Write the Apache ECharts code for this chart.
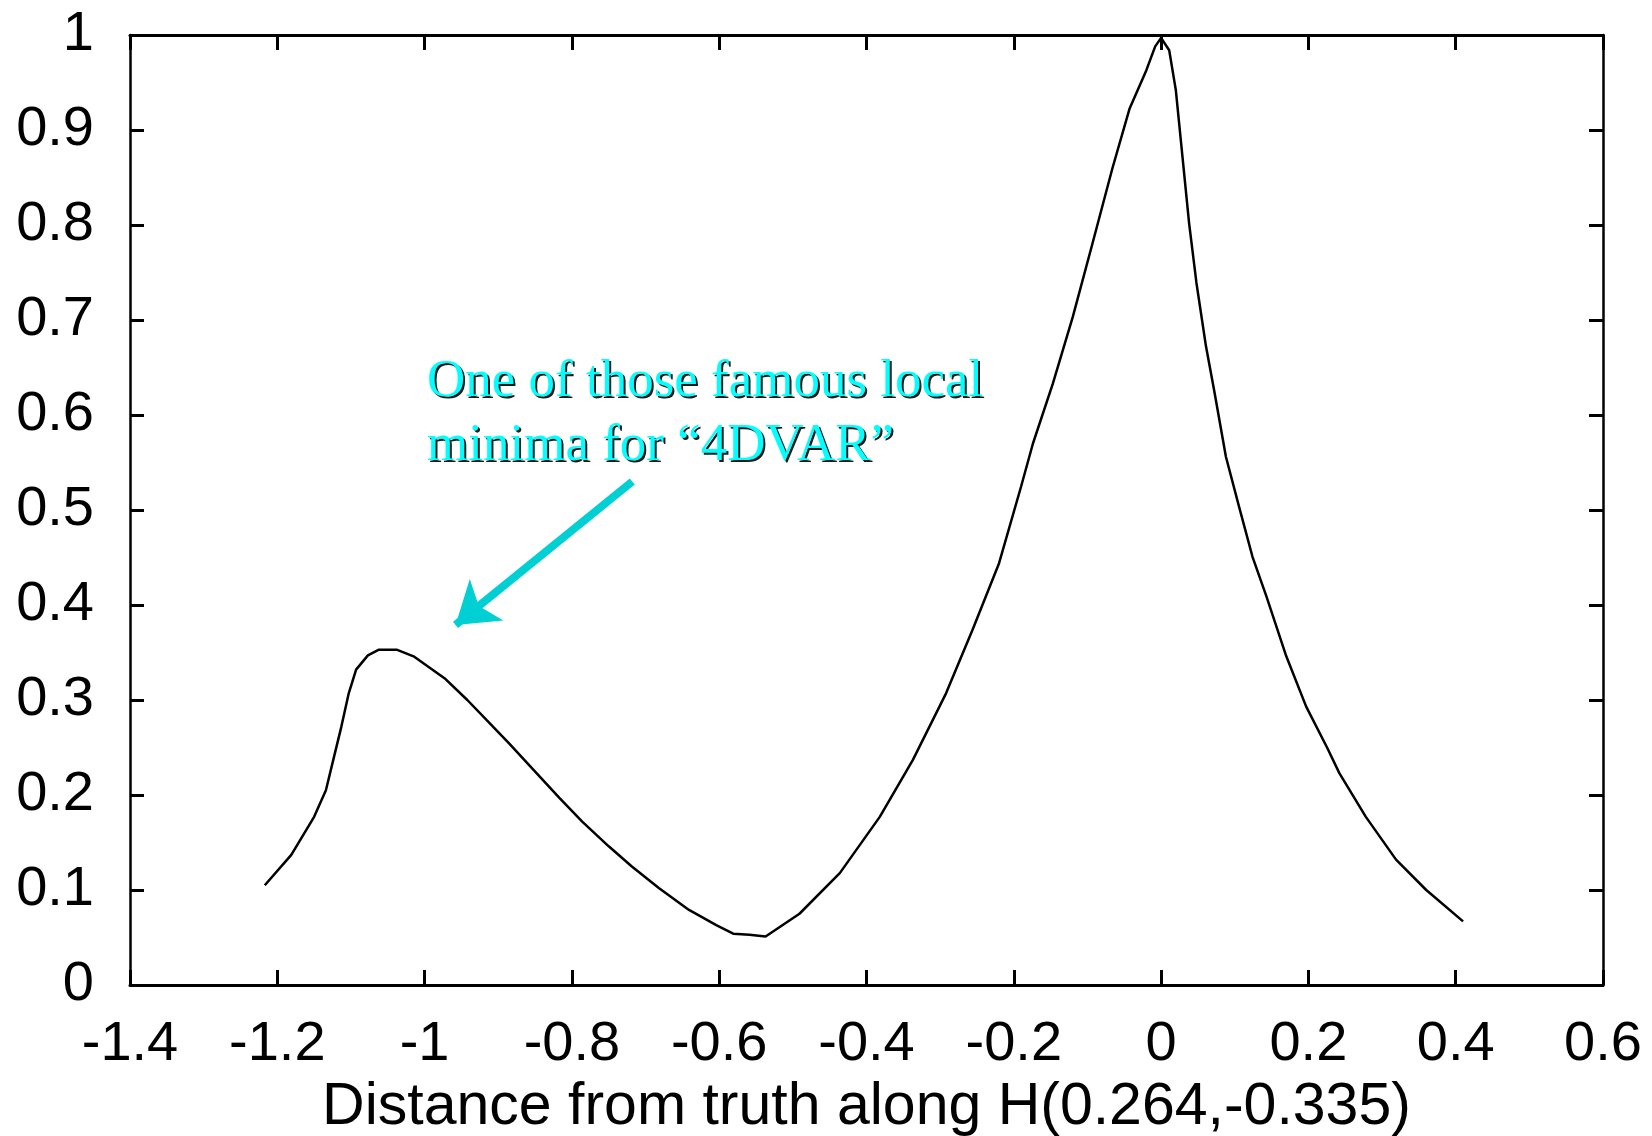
<!DOCTYPE html>
<html>
<head>
<meta charset="utf-8">
<script src="https://cdn.jsdelivr.net/npm/echarts@6/dist/echarts.min.js"></script>
<style>
html,body{margin:0;padding:0;background:#fff;}
#chart{width:1652px;height:1136px;}
</style>
</head>
<body>
<div id="chart"></div>
<script>
// Data
var xValues = [-1.217, -1.181, -1.150, -1.134, -1.124, -1.113, -1.103, -1.093, -1.077, -1.062,
  -1.038, -1.015, -0.973, -0.942, -0.916, -0.885, -0.854, -0.817, -0.786, -0.750,
  -0.719, -0.682, -0.641, -0.604, -0.581, -0.559, -0.537, -0.491, -0.436, -0.382,
  -0.337, -0.292, -0.256, -0.220, -0.190, -0.174, -0.147, -0.120, -0.093, -0.066,
  -0.043, -0.020, -0.008, 0.000, 0.011, 0.020, 0.029, 0.038, 0.048, 0.061,
  0.072, 0.088, 0.106, 0.124, 0.143, 0.170, 0.197, 0.226, 0.242, 0.278,
  0.319, 0.360, 0.410];
var yValues = [0.105, 0.137, 0.177, 0.205, 0.237, 0.272, 0.307, 0.332, 0.347, 0.353,
  0.353, 0.346, 0.323, 0.300, 0.279, 0.254, 0.228, 0.197, 0.172, 0.146,
  0.125, 0.102, 0.079, 0.063, 0.054, 0.053, 0.051, 0.075, 0.118, 0.177,
  0.237, 0.307, 0.374, 0.444, 0.525, 0.570, 0.633, 0.703, 0.781, 0.860,
  0.922, 0.963, 0.988, 0.997, 0.984, 0.942, 0.872, 0.802, 0.739, 0.672,
  0.626, 0.556, 0.503, 0.451, 0.409, 0.346, 0.293, 0.249, 0.223, 0.177,
  0.132, 0.100, 0.067];
var xTicks = {min: -1.4, max: 0.6, interval: 0.2};
var yTicks = {min: 0, max: 1, interval: 0.1};
var xAxisTitle = 'Distance from truth along H(0.264,-0.335)';
var annotationLines = ['One of those famous local', 'minima for \u201C4DVAR\u201D'];
var arrowFrom = [-0.718, 0.530];
var arrowTo = [-0.958, 0.379];

var points = xValues.map(function (x, i) { return [x, yValues[i]]; });

var sans = '"Liberation Sans", Arial, sans-serif';
var serif = '"Liberation Serif", "Times New Roman", serif';

function xAxisDef(pos, showLabels) {
  return {
    type: 'value', position: pos,
    min: xTicks.min, max: xTicks.max, interval: xTicks.interval,
    axisLine: {show: true, onZero: false, lineStyle: {color: '#000', width: 3}},
    axisTick: {show: true, inside: true, length: 15, lineStyle: {color: '#000', width: 3}},
    splitLine: {show: false},
    axisLabel: {show: showLabels, color: '#000', fontFamily: sans, fontSize: 56, margin: 32,
      showMinLabel: true, showMaxLabel: true, hideOverlap: false},
    name: showLabels ? xAxisTitle : '',
    nameLocation: 'middle', nameGap: 90,
    nameTextStyle: {color: '#000', fontFamily: sans, fontSize: 59, verticalAlign: 'top'}
  };
}
function yAxisDef(pos, showLabels) {
  return {
    type: 'value', position: pos,
    min: yTicks.min, max: yTicks.max, interval: yTicks.interval,
    axisLine: {show: true, onZero: false, lineStyle: {color: '#000', width: 2.5}},
    axisTick: {show: true, inside: true, length: 14, lineStyle: {color: '#000', width: 3}},
    splitLine: {show: false},
    axisLabel: {show: showLabels, color: '#000', fontFamily: sans, fontSize: 56, margin: 36,
      showMinLabel: true, showMaxLabel: true, hideOverlap: false}
  };
}

var chart = echarts.init(document.getElementById('chart'), null, {renderer: 'canvas'});
chart.setOption({
  backgroundColor: '#fff',
  animation: false,
  title: {
    text: annotationLines.join('\n'),
    left: 427, top: 350, padding: 0,
    textStyle: {
      color: '#00FFFF', fontFamily: serif, fontSize: 53, fontWeight: 'normal',
      lineHeight: 64,
      textShadowColor: '#1a1a1a', textShadowOffsetX: 2, textShadowOffsetY: 2, textShadowBlur: 0.5
    }
  },
  grid: {left: 130, right: 49, top: 35, bottom: 151, containLabel: false, outerBoundsMode: 'none'},
  xAxis: [xAxisDef('bottom', true), xAxisDef('top', false)],
  yAxis: [yAxisDef('left', true), yAxisDef('right', false)],
  series: [{
    type: 'line',
    data: points,
    showSymbol: false,
    smooth: false,
    lineStyle: {color: '#000', width: 2.5},
    markLine: {
      silent: true,
      symbol: ['none', 'arrow'],
      symbolSize: [40, 40],
      label: {show: false},
      lineStyle: {color: '#00D0D4', width: 8, type: 'solid'},
      data: [[{coord: arrowFrom}, {coord: arrowTo}]]
    }
  }]
});
</script>
</body>
</html>
